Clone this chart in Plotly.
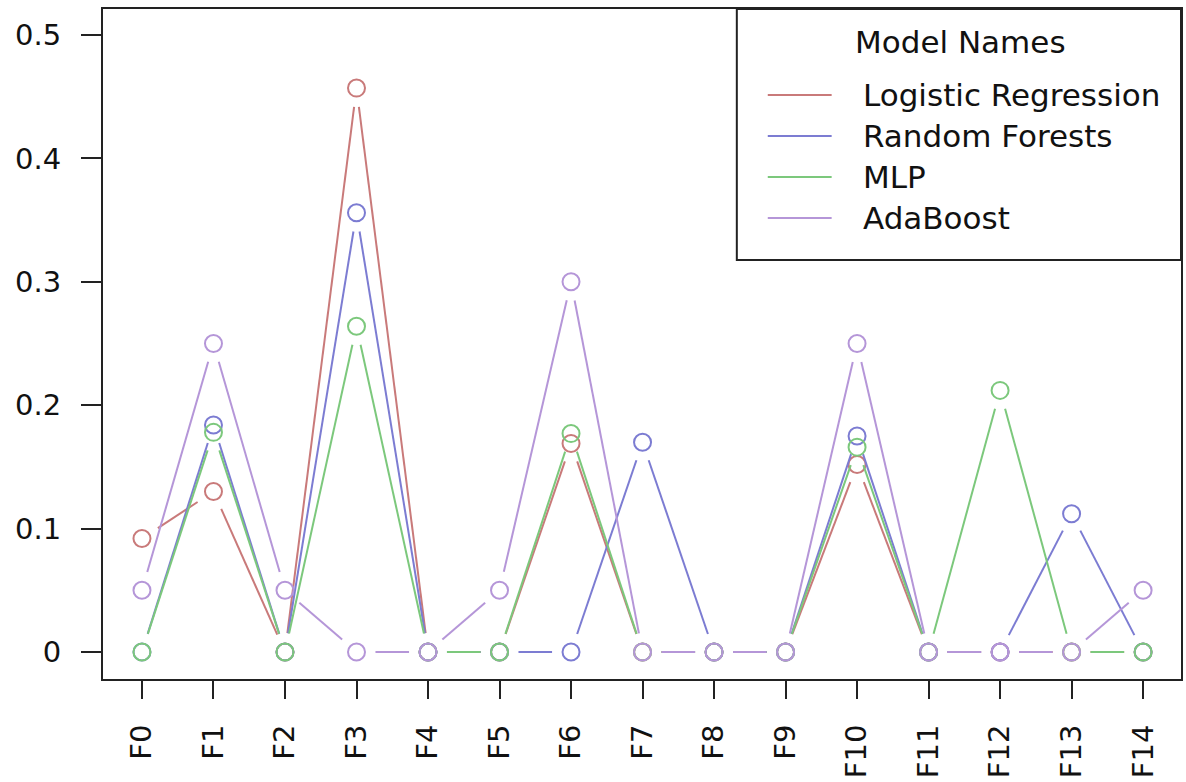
import math
import plotly.graph_objects as go

# Feature importance by model
features = ["F0", "F1", "F2", "F3", "F4", "F5", "F6", "F7", "F8", "F9",
            "F10", "F11", "F12", "F13", "F14"]
logistic_regression = [0.092, 0.130, 0, 0.457, 0, 0, 0.169, 0, 0, 0, 0.152, 0, 0, 0, 0]
random_forests = [0, 0.184, 0, 0.356, 0, 0, 0, 0.170, 0, 0, 0.175, 0, 0, 0.112, 0]
mlp = [0, 0.178, 0, 0.264, 0, 0, 0.177, 0, 0, 0, 0.166, 0, 0.212, 0, 0]
adaboost = [0.05, 0.25, 0.05, 0, 0, 0.05, 0.30, 0, 0, 0, 0.25, 0, 0, 0, 0.05]
y_ticks = [0, 0.1, 0.2, 0.3, 0.4, 0.5]

series_names = ["Logistic Regression", "Random Forests", "MLP", "AdaBoost"]
series_values = [logistic_regression, random_forests, mlp, adaboost]
colors = ["#c97a7a", "#7c7cd2", "#7cc87c", "#b596d8"]

# Canvas / plot area geometry (pixels)
W, H = 1186, 782
M_L, M_R, M_T, M_B = 103, 3, 9, 103
PW, PH = W - M_L - M_R, H - M_T - M_B
x_range = [-0.545, 14.53]
y_range = [-0.0219, 0.5211]
sx = PW / (x_range[1] - x_range[0])
sy = PH / (y_range[1] - y_range[0])
GAP = 19  # px left open around each point ("both" style line)

def gapped_segments(xs, ys):
    gx, gy = [], []
    for i in range(len(xs) - 1):
        dx = (xs[i + 1] - xs[i]) * sx
        dy = (ys[i + 1] - ys[i]) * sy
        L = math.hypot(dx, dy)
        if L <= 2 * GAP:
            continue
        f = GAP / L
        gx += [xs[i] + (xs[i + 1] - xs[i]) * f, xs[i + 1] - (xs[i + 1] - xs[i]) * f, None]
        gy += [ys[i] + (ys[i + 1] - ys[i]) * f, ys[i + 1] - (ys[i + 1] - ys[i]) * f, None]
    return gx, gy

fig = go.Figure()
xs = list(range(len(features)))
for name, vals, col in zip(series_names, series_values, colors):
    gx, gy = gapped_segments(xs, vals)
    fig.add_trace(go.Scatter(x=gx, y=gy, mode="lines", line=dict(color=col, width=2),
                             showlegend=False, hoverinfo="skip"))
    fig.add_trace(go.Scatter(x=xs, y=vals, mode="markers", name=name,
                             marker=dict(symbol="circle-open", size=17, color=col,
                                         line=dict(color=col, width=2)),
                             showlegend=False))

FONT = "DejaVu Sans"

def px_x(p):
    return (p - M_L) / PW

def px_y(p):
    return 1 - (p - M_T) / PH

shapes = [dict(type="rect", xref="paper", yref="paper",
               x0=px_x(738), x1=1, y0=px_y(260), y1=1,
               line=dict(color="#222", width=2), fillcolor="white", layer="above")]
annotations = [dict(text="Model Names", xref="paper", yref="paper",
                    x=px_x(962), y=px_y(42), xanchor="center", yanchor="middle",
                    showarrow=False, font=dict(family=FONT, size=31, color="#111"))]
entry_y = [95, 136, 177, 218]
for name, col, ey in zip(series_names, colors, entry_y):
    shapes.append(dict(type="line", xref="paper", yref="paper",
                       x0=px_x(769), x1=px_x(833), y0=px_y(ey), y1=px_y(ey),
                       line=dict(color=col, width=2), layer="above"))
    annotations.append(dict(text=name, xref="paper", yref="paper",
                            x=px_x(862), y=px_y(ey), xanchor="left", yanchor="middle",
                            showarrow=False, font=dict(family=FONT, size=31, color="#111")))

fig.update_layout(
    width=W, height=H,
    margin=dict(l=M_L, r=M_R, t=M_T, b=M_B),
    paper_bgcolor="white", plot_bgcolor="white",
    shapes=shapes, annotations=annotations,
    font=dict(family=FONT, size=29, color="#111"),
    xaxis=dict(range=x_range, tickmode="array", tickvals=xs, ticktext=features,
               tickangle=-90, ticks="outside", ticklen=18, tickwidth=1.5, tickcolor="#222",
               showline=True, linecolor="#222", linewidth=2, mirror=True,
               showgrid=False, zeroline=False, ticklabelstandoff=14),
    yaxis=dict(range=y_range, tickmode="array", tickvals=y_ticks,
               ticktext=["0", "0.1", "0.2", "0.3", "0.4", "0.5"],
               ticks="outside", ticklen=20, tickwidth=1.5, tickcolor="#222",
               showline=True, linecolor="#222", linewidth=2, mirror=True,
               showgrid=False, zeroline=False, ticklabelstandoff=14),
)

fig.write_html("out.html")
